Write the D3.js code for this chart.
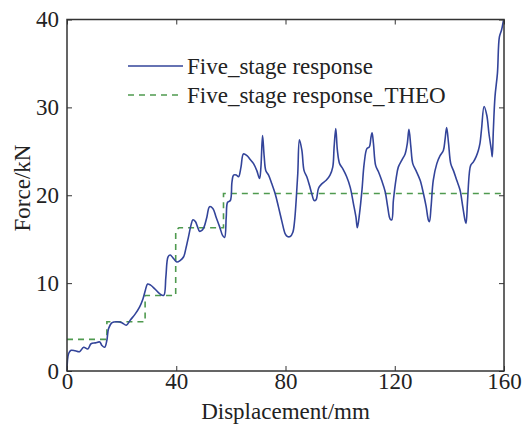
<!DOCTYPE html>
<html>
<head>
<meta charset="utf-8">
<script src="https://cdn.jsdelivr.net/npm/d3@7"></script>
<style>
  html, body { margin: 0; padding: 0; background: #fff; }
  svg text { font-family: "Liberation Serif", "Times New Roman", serif; fill: #222; }
</style>
</head>
<body>
<svg id="chart" width="523" height="429"></svg>
<script>
// Measured force-displacement response (mm, kN)
const responseX = [0, 0.6, 1.5, 3, 4.6, 6.1, 7.6, 8.8, 10.4, 12, 12.8, 13.8, 14.6, 15.2, 16.5, 18.3, 20.1, 21.7, 23.2, 25, 26.6, 27.8, 28.7, 29.5, 30.5, 32.3, 33.9, 35.4, 36.2, 37, 37.8, 39, 40.2, 41.5, 42.7, 43.5, 44.5, 45.4, 46.1, 47, 47.8, 48.5, 49.4, 50.2, 51.2, 52.2, 53.4, 54.6, 55.9, 57, 57.7, 58.3, 58.8, 59.8, 60.4, 61, 62, 62.8, 63.7, 64.6, 65.9, 67, 68.3, 69.5, 70.5, 71, 71.6, 72.2, 72.8, 73.8, 75, 76.2, 77.4, 78.7, 79.9, 80.7, 81.7, 82.7, 83.3, 83.9, 84.5, 85.1, 86, 86.8, 87.8, 88.8, 89.6, 90.5, 91.2, 92.1, 93.3, 94.9, 96.3, 97.3, 97.8, 98.4, 99, 99.8, 101, 102.4, 103.7, 104.9, 105.8, 106.3, 107.1, 108, 108.8, 109.8, 110.7, 111.3, 111.7, 112.2, 113, 114, 115.2, 116.5, 117.4, 118.3, 118.9, 119.5, 120.5, 121.3, 122.6, 123.8, 124.6, 125.2, 125.9, 126.6, 127.8, 129.3, 130.5, 131.5, 132.3, 132.7, 133.3, 134.1, 135.4, 136.6, 137.8, 138.4, 139, 139.7, 140.5, 141.5, 142.7, 143.9, 144.9, 145.7, 146.1, 146.6, 147.3, 147.8, 148.8, 149.8, 150.6, 151.2, 151.8, 152.7, 153.7, 154.5, 155.4, 155.7, 156.1, 156.7, 157.6, 158.3, 159.1, 159.8];
const responseY = [0, 2.0, 2.35, 2.3, 2.2, 2.7, 2.5, 3.1, 3.2, 3.3, 2.9, 2.7, 3.5, 4.8, 5.5, 5.6, 5.5, 5.2, 5.8, 6.5, 7.3, 8.2, 9.2, 9.9, 9.8, 9.3, 8.8, 8.6, 10.7, 13.0, 13.2, 12.8, 12.4, 12.6, 13.0, 13.9, 15.3, 16.6, 17.2, 17.0, 16.4, 15.9, 16.0, 16.4, 17.5, 18.7, 18.5, 17.5, 16.4, 15.4, 15.2, 17.5, 19.2, 19.4, 21.5, 22.3, 22.3, 22.1, 23.2, 24.7, 24.5, 24.1, 23.6, 22.8, 21.9, 23.2, 26.8, 24.4, 22.8, 22.3, 21.3, 20.2, 18.7, 17.0, 15.6, 15.3, 15.3, 15.8, 17.0, 19.4, 22.5, 26.3, 25.1, 22.8, 22.1, 21.1, 20.2, 19.4, 19.5, 20.8, 21.3, 21.7, 22.3, 23.2, 25.5, 27.6, 25.1, 23.6, 23.0, 22.1, 20.9, 19.0, 17.5, 16.3, 17.9, 20.6, 23.6, 25.3, 25.5, 26.6, 27.1, 25.9, 23.4, 22.7, 21.7, 20.4, 18.7, 17.3, 17.2, 19.4, 21.9, 23.2, 24.0, 24.7, 25.9, 27.5, 25.5, 23.6, 22.8, 21.7, 20.2, 18.7, 17.2, 17.0, 18.7, 21.7, 23.6, 24.5, 25.1, 26.3, 27.7, 25.9, 23.6, 22.8, 21.7, 20.6, 18.7, 17.2, 16.8, 19.1, 22.5, 23.4, 23.8, 24.4, 25.1, 25.9, 27.6, 30.1, 29.1, 27.0, 25.1, 24.4, 27.4, 31.2, 33.9, 38.0, 38.8, 39.9];

// Theoretical five-stage step response
const theoX = [0, 14.6, 14.6, 28.6, 28.6, 39.8, 39.8, 41, 57.3, 57.3, 160];
const theoY = [3.6, 3.6, 5.6, 5.6, 8.6, 8.6, 16.0, 16.3, 16.3, 20.2, 20.2];

const xTicks = [0, 40, 80, 120, 160];
const yTicks = [0, 10, 20, 30, 40];
const seriesNames = ["Five_stage response", "Five_stage response_THEO"];
const xTitle = "Displacement/mm";
const yTitle = "Force/kN";

const blue = "#33449a";
const green = "#4f9a4f";
const fontSize = 23;

const svg = d3.select("#chart");
const m = { left: 67, right: 504, top: 19.5, bottom: 371 };

const x = d3.scaleLinear().domain([0, 160]).range([m.left, m.right]);
const y = d3.scaleLinear().domain([0, 40]).range([m.bottom, m.top]);

const line = d3.line().x(d => x(d[0])).y(d => y(d[1]));

// Series
svg.append("path")
  .datum(theoX.map((v, i) => [v, theoY[i]]))
  .attr("d", line)
  .attr("fill", "none")
  .attr("stroke", green)
  .attr("stroke-width", 1.6)
  .attr("stroke-dasharray", "6,5");

svg.append("path")
  .datum(responseX.map((v, i) => [v, responseY[i]]))
  .attr("d", line.curve(d3.curveCatmullRom.alpha(0.5)))
  .attr("fill", "none")
  .attr("stroke", blue)
  .attr("stroke-width", 1.6)
  .attr("stroke-linejoin", "round");

// Axes with inward ticks on all four sides
const axisColor = "#333";
const styleAxis = g => {
  g.select(".domain").remove();
  g.selectAll(".tick line").attr("stroke", axisColor).attr("stroke-width", 1);
  g.selectAll(".tick text").attr("font-size", fontSize).style("font-family", "Liberation Serif, serif").attr("fill", "#222");
};

svg.append("g").attr("transform", `translate(0,${m.bottom})`)
  .call(d3.axisBottom(x).tickValues(xTicks).tickSize(-5).tickPadding(2).tickFormat(d3.format("d")))
  .call(styleAxis);
svg.append("g").attr("transform", `translate(0,${m.top})`)
  .call(d3.axisTop(x).tickValues(xTicks).tickSize(-5).tickFormat(""))
  .call(styleAxis);
svg.append("g").attr("transform", `translate(${m.left},0)`)
  .call(d3.axisLeft(y).tickValues(yTicks).tickSize(-5).tickPadding(8).tickFormat(d3.format("d")))
  .call(styleAxis);
svg.append("g").attr("transform", `translate(${m.right},0)`)
  .call(d3.axisRight(y).tickValues(yTicks).tickSize(-5).tickFormat(""))
  .call(styleAxis);

// Frame
svg.append("rect")
  .attr("x", m.left).attr("y", m.top)
  .attr("width", m.right - m.left).attr("height", m.bottom - m.top)
  .attr("fill", "none").attr("stroke", axisColor).attr("stroke-width", 1.5);

// Axis titles
svg.append("text")
  .attr("x", (m.left + m.right) / 2).attr("y", 419)
  .attr("text-anchor", "middle").attr("font-size", fontSize)
  .text(xTitle);
svg.append("text")
  .attr("transform", "translate(30,188) rotate(-90)")
  .attr("text-anchor", "middle").attr("font-size", fontSize)
  .text(yTitle);

// Legend
const legend = svg.append("g");
const legendRows = [
  { name: seriesNames[0], color: blue, dash: null, y: 66 },
  { name: seriesNames[1], color: green, dash: "6,5", y: 95 }
];
legendRows.forEach(r => {
  legend.append("line")
    .attr("x1", 128).attr("x2", 183).attr("y1", r.y).attr("y2", r.y)
    .attr("stroke", r.color).attr("stroke-width", 1.5)
    .attr("stroke-dasharray", r.dash);
  legend.append("text")
    .attr("x", 187).attr("y", r.y + 8)
    .attr("font-size", fontSize)
    .text(r.name);
});
</script>
</body>
</html>
